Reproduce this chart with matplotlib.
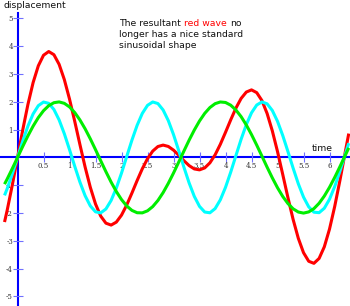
import matplotlib
matplotlib.use("Agg")
import matplotlib.pyplot as plt

# time samples
t = [-0.25, -0.2, -0.1, 0.0, 0.1, 0.2, 0.3, 0.4, 0.5, 0.6, 0.7, 0.8, 0.9,
     1.0, 1.1, 1.2, 1.3, 1.4, 1.5, 1.6, 1.7, 1.8, 1.9,
     2.0, 2.1, 2.2, 2.3, 2.4, 2.5, 2.6, 2.7, 2.8, 2.9,
     3.0, 3.1, 3.2, 3.3, 3.4, 3.5, 3.6, 3.7, 3.8, 3.9,
     4.0, 4.1, 4.2, 4.3, 4.4, 4.5, 4.6, 4.7, 4.8, 4.9,
     5.0, 5.1, 5.2, 5.3, 5.4, 5.5, 5.6, 5.7, 5.8, 5.9,
     6.0, 6.1, 6.2, 6.3, 6.37]

green = [-0.959, -0.779, -0.397, 0.0, 0.397, 0.779, 1.129, 1.435, 1.683, 1.864, 1.971, 1.999, 1.948,
         1.819, 1.617, 1.351, 1.031, 0.670, 0.282, -0.117, -0.511, -0.885, -1.224,
         -1.514, -1.743, -1.903, -1.987, -1.992, -1.918, -1.767, -1.546, -1.263, -0.929,
         -0.559, -0.166, 0.233, 0.623, 0.988, 1.314, 1.587, 1.797, 1.936, 1.997,
         1.979, 1.881, 1.709, 1.469, 1.170, 0.824, 0.446, 0.050, -0.349, -0.733,
         -1.088, -1.400, -1.656, -1.846, -1.962, -2.000, -1.958, -1.839, -1.646, -1.387,
         -1.073, -0.716, -0.331, 0.067, 0.345]

cyan = [-1.363, -1.129, -0.591, 0.0, 0.591, 1.129, 1.567, 1.864, 1.995, 1.948, 1.726, 1.351, 0.855,
        0.282, -0.315, -0.885, -1.376, -1.743, -1.955, -1.992, -1.852, -1.546, -1.101,
        -0.559, 0.034, 0.623, 1.157, 1.587, 1.876, 1.997, 1.940, 1.709, 1.326,
        0.824, 0.249, -0.349, -0.915, -1.400, -1.759, -1.962, -1.989, -1.839, -1.524,
        -1.073, -0.527, 0.067, 0.655, 1.184, 1.608, 1.887, 1.999, 1.931, 1.691,
        1.301, 0.794, 0.216, -0.382, -0.945, -1.424, -1.775, -1.968, -1.985, -1.826,
        -1.502, -1.044, -0.495, 0.101, 0.515]

red = [-2.322, -1.908, -0.988, 0.0, 0.988, 1.908, 2.696, 3.299, 3.678, 3.812, 3.697, 3.350, 2.803,
       2.101, 1.302, 0.466, -0.345, -1.073, -1.673, -2.109, -2.363, -2.431, -2.325,
       -2.073, -1.709, -1.280, -0.830, -0.405, -0.042, 0.230, 0.394, 0.446, 0.397,
       0.265, 0.083, -0.116, -0.292, -0.412, -0.445, -0.375, -0.192, 0.097, 0.473,
       0.906, 1.354, 1.776, 2.124, 2.354, 2.432, 2.333, 2.049, 1.582, 0.958,
       0.213, -0.606, -1.440, -2.228, -2.907, -3.424, -3.733, -3.807, -3.631, -3.213,
       -2.575, -1.760, -0.826, 0.168, 0.860]

xticks = [0.5, 1, 1.5, 2, 2.5, 3, 3.5, 4, 4.5, 5, 5.5, 6]
xticklabels = ["0.5", "1", "1.5", "2", "2.5", "3", "3.5", "4", "4.5", "5", "5.5", "6"]
yticks = [-5, -4, -3, -2, -1, 1, 2, 3, 4, 5]
yticklabels = ["-5", "-4", "-3", "-2", "-1", "1", "2", "3", "4", "5"]

fig = plt.figure(figsize=(3.5, 3.06), dpi=100)
ax = fig.add_axes([0, 0, 1, 1])
ax.set_xlim(-0.337, 6.394)
ax.set_ylim(-5.342, 5.665)

ax.plot(t, red, color="#ff0000", lw=2.2, solid_capstyle="butt", zorder=2.0)
ax.plot(t, cyan, color="#00ffff", lw=2.2, solid_capstyle="butt", zorder=2.1)
ax.plot(t, green, color="#00ee00", lw=2.2, solid_capstyle="butt", zorder=2.2)

for s in ["top", "right"]:
    ax.spines[s].set_visible(False)
ax.spines["left"].set_position(("data", 0))
ax.spines["bottom"].set_position(("data", 0))
ax.spines["left"].set_bounds(-5.6, 5.2)
for s in ["left", "bottom"]:
    ax.spines[s].set_color("#0000ff")
    ax.spines[s].set_linewidth(1.5)
    ax.spines[s].set_zorder(1.5)

ax.set_xticks(xticks)
ax.set_xticklabels(xticklabels)
ax.set_yticks(yticks)
ax.set_yticklabels(yticklabels)
ax.tick_params(direction="inout", length=6.5, width=0.8, color="#7070ff",
               pad=0, labelsize=5, labelcolor="#333333")
for lab in ax.get_xticklabels() + ax.get_yticklabels():
    lab.set_family("DejaVu Serif")

fs = 6.7
ax.text(-0.279, 5.38, "displacement", fontsize=fs, ha="left", va="baseline", color="#111111")
ax.text(5.86, 0.25, "time", fontsize=fs, ha="center", va="baseline", color="#111111")

t1 = ax.text(1.952, 4.73, "The resultant", fontsize=fs, ha="left", va="baseline", color="#111111")
t2 = ax.annotate("red wave", xy=(1, 0), xycoords=t1, xytext=(2.4, 0),
                 textcoords="offset points", fontsize=fs, ha="left", va="bottom", color="#ff0000")
ax.annotate("no", xy=(1, 0), xycoords=t2, xytext=(2.4, 0),
            textcoords="offset points", fontsize=fs, ha="left", va="bottom", color="#111111")
ax.text(1.952, 4.33, "longer has a nice standard", fontsize=fs, ha="left", va="baseline", color="#111111")
ax.text(1.952, 3.94, "sinusoidal shape", fontsize=fs, ha="left", va="baseline", color="#111111")

fig.savefig("out.png", dpi=100)
